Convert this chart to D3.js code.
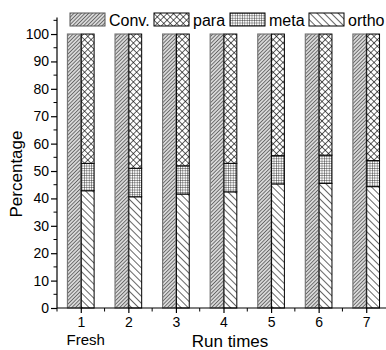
<!DOCTYPE html>
<html>
<head>
<meta charset="utf-8">
<script src="https://cdn.jsdelivr.net/npm/d3@7"></script>
<style>
body{margin:0;background:#fff;}
text{font-family:"Liberation Sans",Arial,sans-serif;fill:#000;}
</style>
</head>
<body>
<div id="chart"></div>
<script>
// data
var runs=[1,2,3,4,5,6,7];
var runLabels=["1","2","3","4","5","6","7"];
var conv=[100,100,100,100,100,100,100];
var ortho=[42.8,40.6,41.6,42.4,45.3,45.5,44.3];
var meta=[10.0,10.4,10.3,10.4,10.3,10.3,9.5];
var para=[47.2,49.0,48.1,47.2,44.4,44.2,46.2];
var yTicks=[0,10,20,30,40,50,60,70,80,90,100];
var legendNames=["Conv.","para","meta","ortho"];

var width=386,height=350;
var svg=d3.select("#chart").append("svg")
    .attr("width",width)
    .attr("height",height);

var x=d3.scaleLinear().domain([0.5,7.5]).range([57,390]);
var y=d3.scaleLinear().domain([0,106]).range([308,17.6]);
var bw=0.28;

//填充图案
var defs=svg.append("defs");
function linePattern(id,size,angle,sw,color,bg,cross){
    var p=defs.append("pattern")
        .attr("id",id)
        .attr("patternUnits","userSpaceOnUse")
        .attr("width",size).attr("height",size)
        .attr("patternTransform","rotate("+angle+")");
    p.append("rect").attr("width",size).attr("height",size).attr("fill",bg);
    p.append("line").attr("x1",0).attr("y1",0).attr("x2",0).attr("y2",size)
        .attr("stroke",color).attr("stroke-width",sw);
    if(cross){
        p.append("line").attr("x1",0).attr("y1",0).attr("x2",size).attr("y2",0)
            .attr("stroke",color).attr("stroke-width",sw);
    }
}
linePattern("pConv",2.6,45,1.1,"#222","#d8d8d8",false);
linePattern("pPara",4.6,45,1.2,"#000","#fff",true);
linePattern("pMeta",2.4,0,0.7,"#000","#fff",true);
linePattern("pOrtho",5,-45,1.2,"#000","#fff",false);

var fills={conv:"url(#pConv)",para:"url(#pPara)",meta:"url(#pMeta)",ortho:"url(#pOrtho)"};

//柱子
var gBars=svg.append("g");
gBars.selectAll(".conv").data(runs).enter().append("rect")
    .attr("class","conv")
    .attr("x",function(d){return x(d-bw);})
    .attr("width",function(d){return x(d)-x(d-bw);})
    .attr("y",function(d,i){return y(conv[i]);})
    .attr("height",function(d,i){return y(0)-y(conv[i]);})
    .attr("fill",fills.conv)
    .attr("stroke","#777").attr("stroke-width",1.2);

var stackData=runs.map(function(d,i){
    return [
        {run:d,y0:0,y1:ortho[i],f:fills.ortho},
        {run:d,y0:ortho[i],y1:ortho[i]+meta[i],f:fills.meta},
        {run:d,y0:ortho[i]+meta[i],y1:ortho[i]+meta[i]+para[i],f:fills.para}
    ];
});
gBars.selectAll(".stack").data(stackData).enter().append("g")
    .attr("class","stack")
    .selectAll("rect").data(function(d){return d;}).enter().append("rect")
    .attr("x",function(d){return x(d.run)+0.5;})
    .attr("width",function(d){return x(d.run+bw)-x(d.run)-0.5;})
    .attr("y",function(d){return y(d.y1);})
    .attr("height",function(d){return y(d.y0)-y(d.y1);})
    .attr("fill",function(d){return d.f;})
    .attr("stroke","#000").attr("stroke-width",1);

//坐标轴
var yAxis=d3.axisLeft(y).tickValues(yTicks).tickSize(6).tickPadding(2);
var gy=svg.append("g").attr("transform","translate("+x(0.5)+",0)").call(yAxis);
gy.selectAll(".tick text").style("font-size","14px");
gy.select(".domain").attr("d","M0,"+y(106)+"V"+y(0));
var yMinor=d3.range(5,106,10);
gy.selectAll(".minor").data(yMinor).enter().append("line")
    .attr("x1",0).attr("x2",-3.5)
    .attr("y1",function(d){return y(d);}).attr("y2",function(d){return y(d);})
    .attr("stroke","#000");

var xAxis=d3.axisBottom(x).tickValues(runs).tickFormat(function(d,i){return runLabels[i];}).tickSize(5).tickPadding(4);
var gx=svg.append("g").attr("transform","translate(0,"+y(0)+")").call(xAxis);
gx.selectAll(".tick text").style("font-size","14px");
gx.select(".domain").attr("d","M"+x(0.5)+",0H"+x(7.5));
var xMinor=d3.range(0.5,7.6,1);
gx.selectAll(".minor").data(xMinor).enter().append("line")
    .attr("y1",0).attr("y2",3.5)
    .attr("x1",function(d){return x(d);}).attr("x2",function(d){return x(d);})
    .attr("stroke","#000");
svg.selectAll(".domain,.tick line").attr("stroke","#000").attr("stroke-width",1.2);

svg.append("text").attr("x",x(1)+5).attr("y",345)
    .attr("text-anchor","middle").style("font-size","15px").text("Fresh");

svg.append("text").attr("x",230).attr("y",347)
    .attr("text-anchor","middle").style("font-size","17px").text("Run times");
svg.append("text").attr("transform","translate(22,174) rotate(-90)")
    .attr("text-anchor","middle").style("font-size","17px").text("Percentage");

//图例
var legendX=[70,154,230,309];
var lg=svg.append("g").selectAll("g").data(legendNames).enter().append("g")
    .attr("transform",function(d,i){return "translate("+legendX[i]+",13)";});
lg.append("rect").attr("width",35).attr("height",13)
    .attr("fill",function(d,i){return [fills.conv,fills.para,fills.meta,fills.ortho][i];})
    .attr("stroke",function(d,i){return i==0?"#555":"#000";});
lg.append("text").attr("x",39).attr("y",13).style("font-size","16px")
    .text(function(d){return d;});
</script>
</body>
</html>
